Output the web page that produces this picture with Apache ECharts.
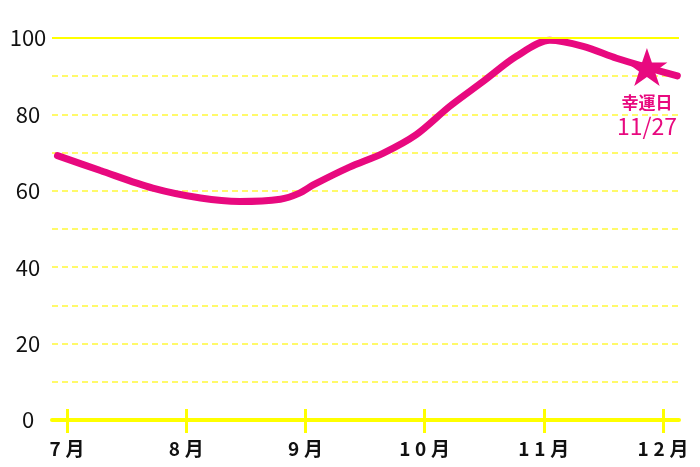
<!DOCTYPE html>
<html><head><meta charset="utf-8">
<script src="https://cdn.jsdelivr.net/npm/echarts@6/dist/echarts.min.js"></script>
<style>html,body{margin:0;padding:0;background:#fff}#c{width:700px;height:467px}</style>
</head><body><div id="c"></div>
<script>
const monthTicks = [7, 8, 9, 10, 11, 12];
const monthSuffix = '月';
const curveX = [6.92, 7.28, 7.72, 8.12, 8.45, 8.79, 8.95, 9.07, 9.37, 9.65, 9.93, 10.21, 10.49, 10.77, 11.05, 11.33, 11.61, 11.89, 12.12];
const curveY = [69.2, 65.3, 60.7, 58.1, 57.2, 57.8, 59.4, 61.6, 66.2, 69.8, 74.7, 82.1, 88.6, 95.2, 99.4, 97.8, 94.7, 92.1, 90.1];
const luckyDay = [11.865, 92.4];
const luckyLabel = ['幸運日', '11/27'];

const PINK = '#e8097f';
const YEL = '#ffff00';
const FONT = 'Noto Sans CJK JP';
const starPath = 'path://M50,0 L61.8,35.1 L98.9,35.1 L68.9,56.7 L80.3,91.9 L50,70 L19.7,91.9 L31.1,56.7 L1.1,35.1 L38.2,35.1 Z';

const chart = echarts.init(document.getElementById('c'));
const xCommon = {type: 'value', min: 6.874, max: 12.134, position: 'bottom', splitLine: {show: false}};
chart.setOption({
  animation: false,
  grid: {left: 52, right: 21, top: 38, bottom: 47},
  xAxis: [
    Object.assign({}, xCommon, {
      axisLine: {show: true, lineStyle: {color: YEL, width: 4}},
      axisTick: {show: true, inside: false, length: 13, customValues: monthTicks, lineStyle: {color: YEL, width: 3}},
      axisLabel: {show: true, customValues: monthTicks, margin: 19, color: '#111', fontFamily: FONT, fontSize: 19, fontWeight: 'bold',
        formatter: v => (v + monthSuffix).split('').join('\u2005')}
    }),
    Object.assign({}, xCommon, {
      axisLine: {show: false},
      axisTick: {show: true, inside: true, length: 11, customValues: monthTicks, lineStyle: {color: YEL, width: 3}},
      axisLabel: {show: false}
    })
  ],
  yAxis: {
    type: 'value', min: 0, max: 100, interval: 10,
    axisLine: {show: false}, axisTick: {show: false},
    axisLabel: {color: '#111', fontFamily: FONT, fontSize: 22, align: 'center', margin: 24,
      formatter: v => (v % 20 === 0 ? String(v) : '')},
    splitLine: {show: true, lineStyle: {color: '#fffa6a', width: 2, type: [6, 4]}}
  },
  series: [
    {
      type: 'line', data: [], z: 1, silent: true,
      markLine: {silent: true, symbol: ['none', 'none'], label: {show: false},
        lineStyle: {color: YEL, width: 2, type: 'solid'}, data: [{yAxis: 100}]}
    },
    {
      type: 'line', z: 3, smooth: 0.3, showSymbol: false, clip: false,
      lineStyle: {color: PINK, width: 7, cap: 'round'},
      data: curveX.map((x, i) => [x, curveY[i]])
    },
    {
      type: 'scatter', z: 10, zlevel: 1, symbol: starPath, symbolSize: [41, 38],
      itemStyle: {color: PINK, opacity: 1},
      label: {show: true, position: 'bottom', distance: 6,
        formatter: '{a|' + luckyLabel[0] + '}\n{b|' + luckyLabel[1] + '}',
        rich: {
          a: {color: PINK, fontFamily: FONT, fontSize: 17, fontWeight: 'bold', lineHeight: 22, align: 'center'},
          b: {color: PINK, fontFamily: FONT, fontSize: 23, lineHeight: 25, align: 'center'}
        }},
      data: [luckyDay]
    }
  ]
});
</script></body></html>
